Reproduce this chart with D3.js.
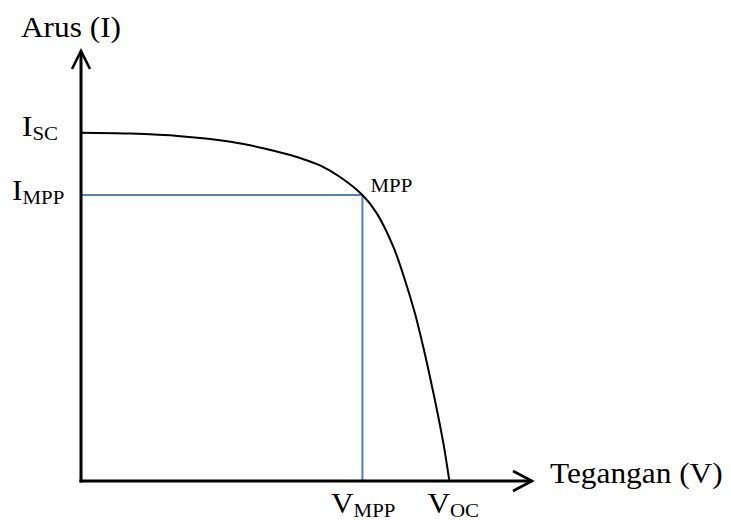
<!DOCTYPE html>
<html>
<head>
<meta charset="utf-8">
<script src="https://cdn.jsdelivr.net/npm/d3@7"></script>
<style>
  html, body { margin: 0; padding: 0; background: #fff; }
  svg { display: block; }
  text { font-family: "Liberation Serif", "Times New Roman", serif; fill: #000; }
</style>
</head>
<body>
<svg id="chart" width="731" height="520"></svg>
<script>
// Data (voltage in V, current in A — schematic units)
const voltage = [0, 2.7, 5.5, 8.3, 10.1, 11.6, 12.14, 13.25, 14.36, 15.6, 16.39, 17.31, 17.96, 18.51, 18.97, 19.38, 19.77, 20.12, 20.42];
const current = [8.10, 8.08, 8.02, 7.89, 7.74, 7.58, 7.51, 7.34, 7.07, 6.65, 6.23, 5.45, 4.67, 3.90, 3.12, 2.35, 1.57, 0.80, 0];
const mppPoint = { v: 15.6, i: 6.65 };
const vocValue = 20.42;
const iscValue = 8.10;
const axisTitles = { x: "Tegangan (V)", y: "Arus (I)" };

const svg = d3.select("#chart");
const x = d3.scaleLinear().domain([0, 25]).range([81, 532]);
const y = d3.scaleLinear().domain([0, 10]).range([481, 51]);

const blue = "#4f81bd";

// Blue MPP guide lines
svg.append("line")
  .attr("x1", x(0)).attr("x2", x(mppPoint.v))
  .attr("y1", y(mppPoint.i)).attr("y2", y(mppPoint.i))
  .attr("stroke", blue).attr("stroke-width", 2);
svg.append("line")
  .attr("x1", x(mppPoint.v)).attr("x2", x(mppPoint.v))
  .attr("y1", y(mppPoint.i)).attr("y2", y(0))
  .attr("stroke", blue).attr("stroke-width", 2);

// I-V curve
const pts = voltage.map((v, k) => [v, current[k]]);
const line = d3.line().x(d => x(d[0])).y(d => y(d[1])).curve(d3.curveCatmullRom.alpha(0.5));
svg.append("path")
  .datum(pts)
  .attr("d", line)
  .attr("fill", "none")
  .attr("stroke", "#000")
  .attr("stroke-width", 2);

// Axes
svg.append("line")
  .attr("x1", x(0)).attr("x2", x(0))
  .attr("y1", y(0) + 1.5).attr("y2", y(10))
  .attr("stroke", "#000").attr("stroke-width", 3);
svg.append("line")
  .attr("x1", x(0) - 1.5).attr("x2", x(25))
  .attr("y1", y(0)).attr("y2", y(0))
  .attr("stroke", "#000").attr("stroke-width", 3);
// Arrow heads
svg.append("polyline")
  .attr("points", `${x(0) - 9},${y(10) + 18} ${x(0)},${y(10)} ${x(0) + 9},${y(10) + 18}`)
  .attr("fill", "none").attr("stroke", "#000").attr("stroke-width", 2.6);
svg.append("polyline")
  .attr("points", `${x(25) - 19},${y(0) - 10} ${x(25)},${y(0)} ${x(25) - 19},${y(0) + 10}`)
  .attr("fill", "none").attr("stroke", "#000").attr("stroke-width", 2.6);

const big = 28.5, small = 19, sx = 1.1;
function label(px, py, main, sub, size) {
  const t = svg.append("text")
    .attr("transform", `translate(${px},${py}) scale(${sx},1)`)
    .attr("font-size", size || big);
  t.append("tspan").text(main);
  if (sub) {
    t.append("tspan").attr("font-size", small).attr("dy", 4).text(sub);
  }
  return t;
}

label(21, 37, axisTitles.y);
label(550, 483, axisTitles.x);
label(22, y(iscValue) + 3.5, "I", "SC");
label(12, y(mppPoint.i) + 5, "I", "MPP");
label(x(mppPoint.v) - 31.5, 513, "V", "MPP");
label(x(vocValue) - 22, 513, "V", "OC");
label(x(mppPoint.v) + 8, y(mppPoint.i) - 3, "MPP", null, small);
</script>
</body>
</html>
